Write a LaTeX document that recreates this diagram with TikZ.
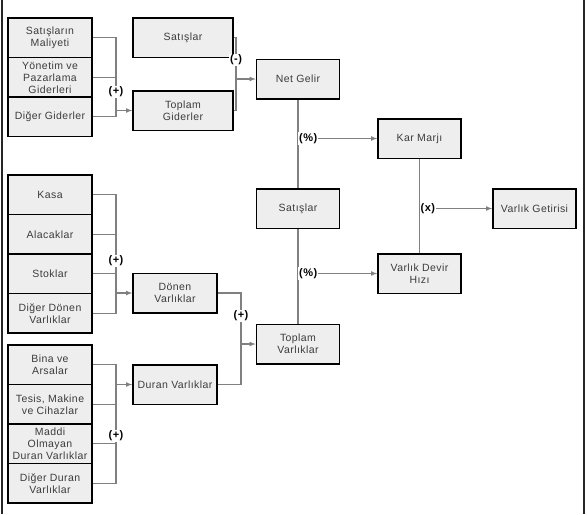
\documentclass[tikz,border=0pt]{standalone}
\usepackage{fontspec}
\setmainfont{Liberation Sans}[LetterSpace=4]
\usetikzlibrary{shapes,arrows,positioning,backgrounds}
\definecolor{boxgray}{RGB}{238,238,238}
\definecolor{linegray}{RGB}{128,128,128}
\definecolor{textgray}{RGB}{60,60,60}
\tikzstyle{account} = [rectangle, draw=black, line width=1.5pt, fill=boxgray, text=textgray, align=center, font=\fontsize{10.5}{12}\selectfont, minimum width=84pt, minimum height=39.5pt, inner sep=1pt]
\tikzstyle{wideaccount} = [account, minimum width=100pt]
\tikzstyle{ratio} = [account, minimum width=83pt]
\tikzstyle{op} = [fill=white, inner sep=1pt, text=black, font=\fontsize{11}{12}\selectfont\bfseries]
\tikzstyle{tline} = [draw, linegray, line width=1.1pt]
\tikzstyle{tedge} = [draw, linegray, line width=1.1pt, >=latex, ->]

\begin{document}
\begin{tikzpicture}[x=1pt, y=-1pt]
\useasboundingbox (0,0) rectangle (588,514);
\draw[line width=2pt, black!85] (2,0) -- (2,514);
\draw[line width=2pt, black!85] (584,0) -- (584,514);

% expenses =============================
\node[account] (sm) at (50,37.75) {Satışların\\Maliyeti};
\node[account, below=-1.5pt of sm] (yp) {Yönetim ve\\Pazarlama\\Giderleri};
\node[account, below=-1.5pt of yp] (dg) {Diğer Giderler};
\node[wideaccount] (sat) at (183,37.5) {Satışlar};
\node[wideaccount] (tg) at (183,110.5) {Toplam\\Giderler};

% current assets =============================
\node[account] (kasa) at (50,194.75) {Kasa};
\node[account, below=-1.5pt of kasa] (al) {Alacaklar};
\node[account, below=-1.5pt of al] (st) {Stoklar};
\node[account, below=-1.5pt of st] (ddv) {Diğer Dönen\\Varlıklar};
\node[account] (dv) at (175,293) {Dönen\\Varlıklar};

% fixed assets =============================
\node[account] (bina) at (50,364.75) {Bina ve\\Arsalar};
\node[account, below=-1.5pt of bina] (tes) {Tesis, Makine\\ve Cihazlar};
\node[account, below=-1.5pt of tes] (mad) {Maddi\\Olmayan\\Duran Varlıklar};
\node[account, below=-1.5pt of mad] (ddu) {Diğer Duran\\Varlıklar};
\node[account] (duv) at (175,384.5) {Duran Varlıklar};

% ratios =============================
\node[ratio] (ng) at (298,79) {Net Gelir};
\node[ratio] (sat2) at (298,208.5) {Satışlar};
\node[ratio] (tv) at (298,344) {Toplam\\Varlıklar};
\node[ratio] (km) at (419.5,138.5) {Kar Marjı};
\node[ratio] (vd) at (419.5,273.5) {Varlık Devir\\Hızı};
\node[ratio] (vg) at (534.5,208.5) {Varlık Getirisi};

% operators =============================
\node[op] (plus1) at (116,92) {(+)};
\node[op] (minus) at (236,60) {(-)};
\node[op, anchor=west] (pct1) at (ng.south |- km.west) {(\%)};
\node[op, anchor=west] (xop) at (km.south |- vg.west) {(x)};
\node[op, anchor=west] (pct2) at (sat2.south |- vd.west) {(\%)};
\node[op] (plus3) at (116,261) {(+)};
\node[op] (plus4) at (116,436) {(+)};
\node[op] (plus5) at (241,316) {(+)};

% edges =============================
\begin{scope}[on background layer]
\path[tline] (sm.east) -| (dg.east -| plus1) -- (dg.east);
\path[tline] (yp.east) -- (yp.east -| plus1);
\path[tedge] (plus1 |- tg.west) -- (tg.west);
\path[tline] (sat.east) -| (tg.east -| minus) -- (tg.east);
\path[tedge] (minus |- ng.west) -- (ng.west);

\path[tline] (kasa.east) -| (ddv.east -| plus3) -- (ddv.east);
\path[tline] (al.east) -- (al.east -| plus3);
\path[tline] (st.east) -- (st.east -| plus3);
\path[tedge] (plus3 |- dv.west) -- (dv.west);

\path[tline] (bina.east) -| (ddu.east -| plus4) -- (ddu.east);
\path[tline] (tes.east) -- (tes.east -| plus4);
\path[tline] (mad.east) -- (mad.east -| plus4);
\path[tedge] (plus4 |- duv.west) -- (duv.west);

\path[tline] (dv.east) -| (duv.east -| plus5) -- (duv.east);
\path[tedge] (plus5 |- tv.west) -- (tv.west);

\path[tline] (ng) -- (sat2);
\path[tline] (sat2) -- (tv);
\path[tedge] (pct1) -- (km);
\path[tedge] (pct2) -- (vd);
\path[tline] (km) -- (vd);
\path[tedge] (xop) -- (vg);
\end{scope}

\end{tikzpicture}
\end{document}
